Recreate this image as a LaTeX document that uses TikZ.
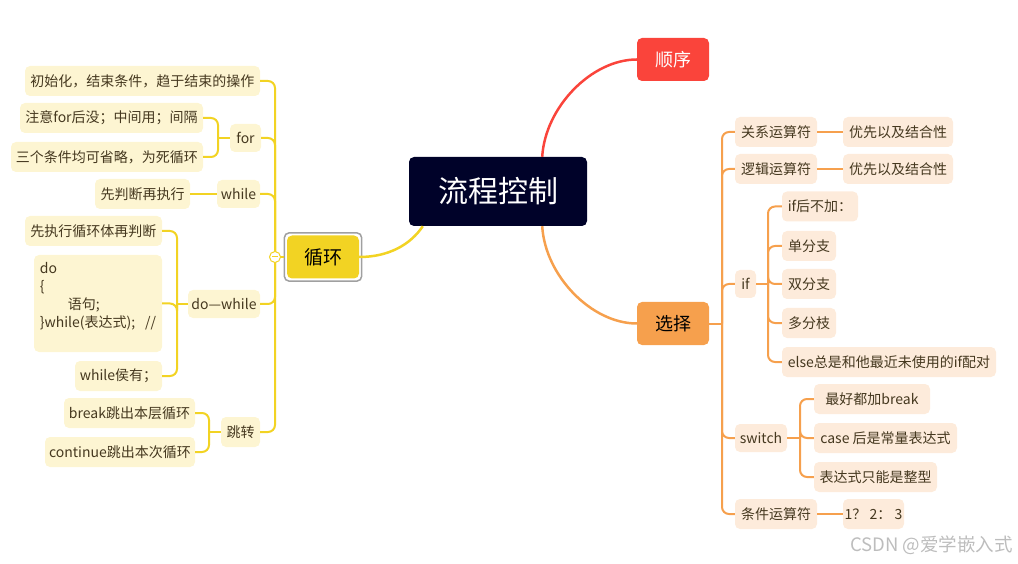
\documentclass[tikz,border=0pt]{standalone}
\usepackage{fontspec}
\setmainfont{Noto Sans CJK SC}
\definecolor{navy}{HTML}{000229}
\definecolor{redA}{HTML}{FA443B}
\definecolor{org}{HTML}{F6A04D}
\definecolor{ofill}{HTML}{FDEBDB}
\definecolor{yel}{HTML}{F2D323}
\definecolor{yfill}{HTML}{FDF5D2}
\definecolor{txt}{HTML}{45381F}
\definecolor{wm}{HTML}{BDBDBD}
\definecolor{selgray}{HTML}{A0A0A0}
\tikzset{
  leaf/.style={rounded corners=5pt, text=txt, font=\fontsize{14}{17}\selectfont, inner sep=0pt, minimum height=30pt},
  obox/.style={leaf, fill=ofill},
  ybox/.style={leaf, fill=yfill},
  oline/.style={draw=org, line width=2pt, rounded corners=7pt},
  yline/.style={draw=yel, line width=2pt, rounded corners=7pt},
  mainbox/.style={rounded corners=5pt, inner sep=0pt, minimum width=72pt, minimum height=43pt, font=\fontsize{18}{22}\selectfont},
}
\begin{document}
\begin{tikzpicture}[x=1pt,y=-1pt]
\useasboundingbox (0,0) rectangle (1018,564);

% main nodes
\node[fill=navy, text=white, rounded corners=5pt, inner sep=0pt, minimum width=178pt, minimum height=69pt, font=\fontsize{30}{36}\selectfont] (c) at (498,191.5) {流程控制};
\node[mainbox, fill=redA, text=white] (sx) at (673,59.5) {顺序};
\node[mainbox, fill=org, text=black] (xz) at (673,323.5) {选择};
\node[mainbox, fill=yel, text=black, font=\fontsize{19}{23}\selectfont] (loop) at (323,257) {循环};
\draw[selgray, line width=1.5pt, rounded corners=5pt] ([shift={(-2.5,-2.5)}]loop.north west) rectangle ([shift={(2.5,2.5)}]loop.south east);

% main connectors
\draw[redA, line width=2.5pt] ([xshift=-45pt]c.north east) .. controls +(3,-50) and +(-45,0) .. (sx.west);
\draw[org, line width=2.5pt] ([xshift=-45pt]c.south east) .. controls +(3,50) and +(-45,0) .. (xz.west);
\draw[yel, line width=2.5pt] ([xshift=14pt]c.south west) .. controls +(-12,18) and +(30,0) .. (loop.east);

% ---------- right side ----------
\node[obox, minimum width=82pt] (gx) at (776,132) {关系运算符};
\node[obox, minimum width=110pt] (gxa) at (898,132) {优先以及结合性};
\node[obox, minimum width=82pt] (lj) at (776,169) {逻辑运算符};
\node[obox, minimum width=110pt] (lja) at (898,169) {优先以及结合性};
\node[obox, minimum width=21pt, minimum height=28pt] (if) at (745.5,284) {if};
\node[obox, minimum width=76pt] (ifa) at (820,206.5) {if后不加：};
\node[obox, minimum width=54pt] (ifb) at (809,246) {单分支};
\node[obox, minimum width=54pt] (ifc) at (809,284) {双分支};
\node[obox, minimum width=54pt] (ifd) at (809,323) {多分枝};
\node[obox, minimum width=214pt] (ife) at (889,362) {else总是和他最近未使用的if配对};
\node[obox, minimum width=52pt, minimum height=28pt] (sw) at (761,438) {switch};
\node[obox, minimum width=116pt] (swa) at (872,399) {最好都加break};
\node[obox, minimum width=143pt] (swb) at (885.5,438) {case 后是常量表达式};
\node[obox, minimum width=123pt] (swc) at (875.5,477) {表达式只能是整型};
\node[obox, minimum width=82pt] (tj) at (776,514) {条件运算符};
\node[obox, minimum width=61pt] (tja) at (873.5,514) {1？ 2： 3};

\coordinate (rj) at (722,323.5);
\coordinate (ifj) at (768,284);
\coordinate (swj) at (800,438);
\draw[oline] (xz.east) -- (rj);
\foreach \n in {gx,lj,if,sw,tj} \draw[oline] (rj) |- (\n.west);
\draw[oline] (gx.east) -- (gxa.west);
\draw[oline] (lj.east) -- (lja.west);
\draw[oline] (tj.east) -- (tja.west);
\draw[oline] (if.east) -- (ifj);
\foreach \n in {ifa,ifb,ifc,ifd,ife} \draw[oline] (ifj) |- (\n.west);
\draw[oline] (sw.east) -- (swj);
\foreach \n in {swa,swb,swc} \draw[oline] (swj) |- (\n.west);

% ---------- left side ----------
\node[ybox, minimum width=235pt] (init) at (142.5,81) {初始化，结束条件，趋于结束的操作};
\node[ybox, minimum width=31pt, minimum height=28pt] (lfor) at (245.5,138) {for};
\node[ybox, minimum width=183pt] (fora) at (111.5,118) {注意for后没；中间用；间隔};
\node[ybox, minimum width=192pt] (forb) at (107,157) {三个条件均可省略，为死循环};
\node[ybox, minimum width=43pt, minimum height=28pt] (lwhile) at (238.5,194) {while};
\node[ybox, minimum width=95pt] (wha) at (142.5,194) {先判断再执行};
\node[ybox, minimum width=72pt, minimum height=28pt] (dw) at (224,304) {do—while};
\node[ybox, minimum width=137pt] (dwa) at (93.5,231) {先执行循环体再判断};
\node[ybox, minimum width=128pt, minimum height=97pt, align=left, font=\fontsize{14}{18}\selectfont] (dwb) at (98,303.5) {do\\\{\\\hspace*{2em}语句;\\\}while(表达式);\hspace{0.7em}//\\\mbox{}};
\node[ybox, minimum width=87pt] (dwc) at (118.5,376) {while侯有；};
\node[ybox, minimum width=39pt] (jz) at (240.5,432) {跳转};
\node[ybox, minimum width=131pt] (jza) at (129.5,413) {break跳出本层循环};
\node[ybox, minimum width=150pt] (jzb) at (120,452) {continue跳出本次循环};

\coordinate (lj0) at (275,257);
\coordinate (forj) at (218,138);
\coordinate (dwj) at (177,304);
\coordinate (jzj) at (209,432);
\draw[yline] ([xshift=-2.5pt]loop.west) -- (lj0);
\foreach \n in {init,lfor,lwhile,dw,jz} \draw[yline] (lj0) |- (\n.east);
\draw[yline] (lfor.west) -- (forj);
\foreach \n in {fora,forb} \draw[yline] (forj) |- (\n.east);
\draw[yline] (lwhile.west) -- (wha.east);
\draw[yline] (dw.west) -- (dwj);
\foreach \n in {dwa,dwb,dwc} \draw[yline] (dwj) |- (\n.east);
\draw[yline] (jz.west) -- (jzj);
\foreach \n in {jza,jzb} \draw[yline] (jzj) |- (\n.east);

\node[circle, draw=yel, fill=white, line width=1pt, minimum size=11pt, inner sep=0pt] (col) at (lj0) {};
\draw[yel, line width=1pt] ([xshift=-3pt]col.center) -- ([xshift=3pt]col.center);

% watermark
\node[text=wm, font=\fontsize{18.5}{22}\selectfont, inner sep=0pt, anchor=east] (wmk) at (1013,545) {CSDN @爱学嵌入式};
\end{tikzpicture}
\end{document}
